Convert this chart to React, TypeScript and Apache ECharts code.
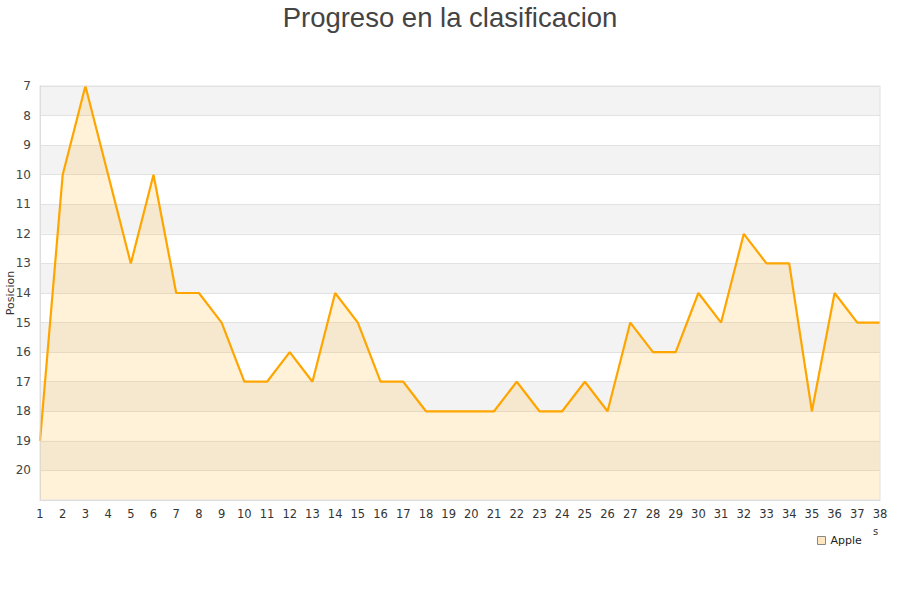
import React, { useEffect, useRef } from "react";
import * as echarts from "echarts";

const jornadas: string[] = Array.from({ length: 38 }, (_, i) => String(i + 1));
const posiciones: number[] = [
  19, 10, 7, 10, 13, 10, 14, 14, 15, 17, 17, 16, 17, 14, 15, 17, 17, 18, 18, 18,
  18, 17, 18, 18, 17, 18, 15, 16, 16, 14, 15, 12, 13, 13, 18, 14, 15, 15,
];
const seriesName = "Apple";
const titleText = "Progreso en la clasificacion";
const yName = "Posicion";

export default function App() {
  const ref = useRef<HTMLDivElement>(null);
  useEffect(() => {
    if (!ref.current) return;
    const chart = echarts.init(ref.current, null, { renderer: "svg" });
    chart.setOption({
      animation: false,
      title: {
        text: titleText,
        left: "center",
        top: -2,
        textStyle: {
          fontFamily: "Liberation Sans",
          fontSize: 27.5,
          fontWeight: "normal",
          color: "#444",
        },
      },
      legend: {
        data: [
          {
            name: seriesName,
            icon: "rect",
            itemStyle: { color: "#ffe8c0", borderColor: "#888", borderWidth: 1 },
          },
        ],
        left: 812,
        top: 530,
        itemWidth: 8,
        itemHeight: 8,
        itemGap: 6,
        textStyle: { fontFamily: "DejaVu Sans", fontSize: 11, color: "#222" },
      },
      grid: {
        left: 40,
        right: 20,
        top: 86,
        bottom: 100,
        containLabel: false,
        outerBoundsMode: "none",
      },
      xAxis: {
        type: "category",
        data: jornadas,
        boundaryGap: false,
        axisLine: { show: true, lineStyle: { color: "#d8d8d8" } },
        axisTick: { show: false },
        axisLabel: {
          interval: 0,
          fontFamily: "DejaVu Sans",
          fontSize: 11.5,
          color: "#333",
          margin: 8,
        },
        splitLine: { show: false },
      },
      yAxis: {
        type: "value",
        inverse: true,
        min: 7,
        max: 21,
        interval: 1,
        axisLine: { show: true, lineStyle: { color: "#d8d8d8" } },
        axisTick: { show: false },
        axisLabel: {
          fontFamily: "DejaVu Sans",
          fontSize: 12,
          color: "#444",
          margin: 9,
          formatter: (v: number) => (v === 21 ? "" : String(v)),
        },
        splitLine: { show: true, lineStyle: { color: "#e2e2e2" } },
        splitArea: { show: true, areaStyle: { color: ["#f3f3f3", "#ffffff"] } },
      },
      graphic: [
        {
          type: "rect",
          shape: { x: 40, y: 86, width: 840, height: 414 },
          style: { fill: "none", stroke: "#e2e2e2", lineWidth: 1 },
          silent: true,
          z: 10,
        },
        {
          type: "text",
          x: 10,
          y: 293,
          rotation: Math.PI / 2,
          style: {
            text: yName,
            fontFamily: "DejaVu Sans",
            fontSize: 11,
            fill: "#333",
            align: "center",
            verticalAlign: "middle",
          },
        },
        {
          type: "text",
          x: 873,
          y: 526,
          style: { text: "s", fontFamily: "DejaVu Sans", fontSize: 10, fill: "#333" },
        },
      ],
      series: [
        {
          name: seriesName,
          type: "line",
          data: posiciones,
          symbol: "none",
          lineStyle: { color: "#ffa500", width: 2.2 },
          itemStyle: { color: "#ffa500" },
          areaStyle: { color: "rgba(255,190,60,0.28)", origin: "end" },
          z: 5,
        },
      ],
    });
    return () => chart.dispose();
  }, []);
  return (
    <div
      ref={ref}
      style={{ position: "absolute", left: 0, top: 0, width: 900, height: 600 }}
    />
  );
}
